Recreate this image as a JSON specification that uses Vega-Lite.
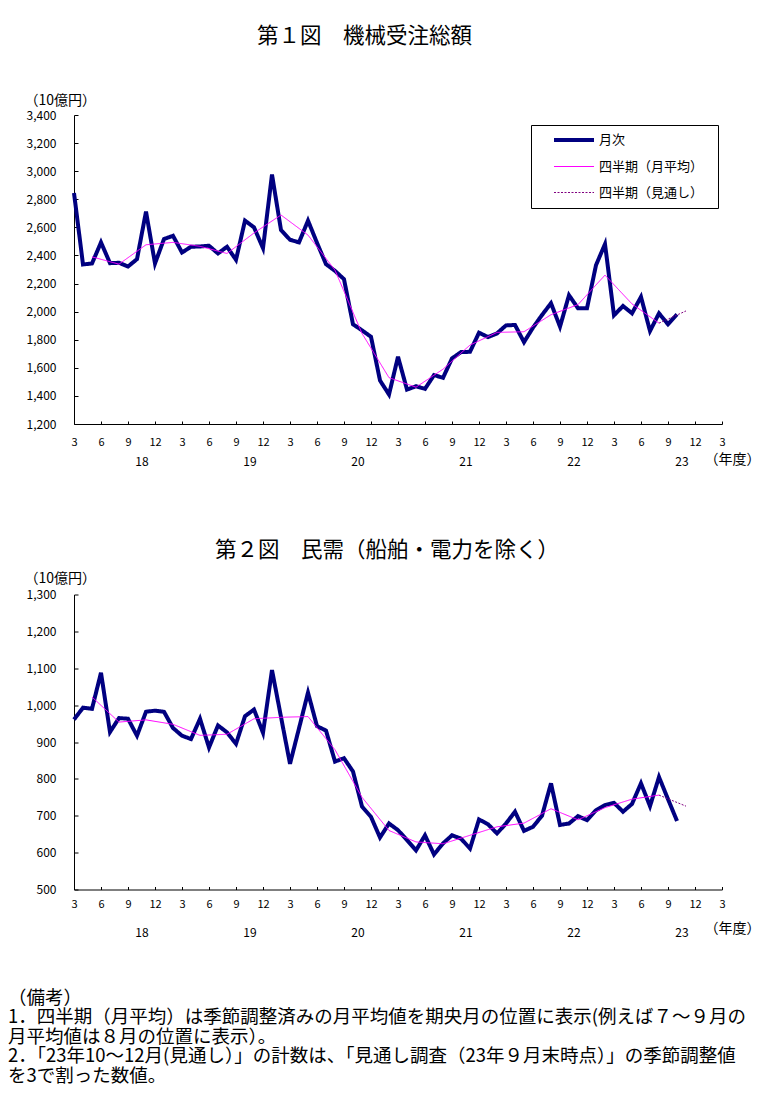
{
  "$schema": "https://vega.github.io/schema/vega-lite/v6.json",
  "background": "white",
  "padding": {"left": 8, "top": 26, "right": 5, "bottom": 5},
  "config": {
    "font": "Noto Sans CJK JP",
    "view": {"stroke": null},
    "axis": {"labelFont": "Noto Sans CJK JP", "labelFontSize": 11, "labelColor": "black", "domainColor": "black", "tickColor": "black", "grid": false, "titleFont": "Noto Sans CJK JP", "titleFontWeight": "normal", "titleFontSize": 14, "titleColor": "black"},
    "legend": {"title": null, "strokeColor": "black", "fillColor": "white", "padding": 8, "symbolType": "M-4,0H4", "symbolSize": 100, "labelFont": "Noto Sans CJK JP", "labelFontSize": 13, "labelColor": "black", "rowPadding": 12, "symbolOffset": 28, "labelOffset": 18},
    "title": {"font": "Noto Sans CJK JP", "fontWeight": "normal", "color": "black"}
  },
  "title": {
    "text": ["（備考）", "1．四半期（月平均）は季節調整済みの月平均値を期央月の位置に表示(例えば７～９月の", "　月平均値は８月の位置に表示）。", "2．「23年10～12月(見通し）」の計数は、「見通し調査（23年９月末時点）」の季節調整値", "　を3で割った数値。"],
    "orient": "bottom", "anchor": "start", "offset": 50, "dx": -16, "fontSize": 18.5, "lineHeight": 19.5, "fontWeight": "normal"
  },
  "spacing": 72.5,
  "datasets": {
    "fig1": [
      {"series":"月次","month":0,"value":2845},{"series":"月次","month":1,"value":2336},{"series":"月次","month":2,"value":2343},{"series":"月次","month":3,"value":2493},{"series":"月次","month":4,"value":2345},{"series":"月次","month":5,"value":2348},{"series":"月次","month":6,"value":2321},{"series":"月次","month":7,"value":2374},{"series":"月次","month":8,"value":2712},{"series":"月次","month":9,"value":2343},
      {"series":"月次","month":10,"value":2517},{"series":"月次","month":11,"value":2540},{"series":"月次","month":12,"value":2421},{"series":"月次","month":13,"value":2462},{"series":"月次","month":14,"value":2464},{"series":"月次","month":15,"value":2469},{"series":"月次","month":16,"value":2414},{"series":"月次","month":17,"value":2462},{"series":"月次","month":18,"value":2369},{"series":"月次","month":19,"value":2648},
      {"series":"月次","month":20,"value":2600},{"series":"月次","month":21,"value":2452},{"series":"月次","month":22,"value":2976},{"series":"月次","month":23,"value":2581},{"series":"月次","month":24,"value":2512},{"series":"月次","month":25,"value":2493},{"series":"月次","month":26,"value":2648},{"series":"月次","month":27,"value":2490},{"series":"月次","month":28,"value":2338},{"series":"月次","month":29,"value":2290},
      {"series":"月次","month":30,"value":2231},{"series":"月次","month":31,"value":1910},{"series":"月次","month":32,"value":1867},{"series":"月次","month":33,"value":1821},{"series":"月次","month":34,"value":1510},{"series":"月次","month":35,"value":1410},{"series":"月次","month":36,"value":1679},{"series":"月次","month":37,"value":1445},{"series":"月次","month":38,"value":1469},{"series":"月次","month":39,"value":1450},
      {"series":"月次","month":40,"value":1548},{"series":"月次","month":41,"value":1529},{"series":"月次","month":42,"value":1667},{"series":"月次","month":43,"value":1712},{"series":"月次","month":44,"value":1714},{"series":"月次","month":45,"value":1850},{"series":"月次","month":46,"value":1819},{"series":"月次","month":47,"value":1845},{"series":"月次","month":48,"value":1902},{"series":"月次","month":49,"value":1905},
      {"series":"月次","month":50,"value":1783},{"series":"月次","month":51,"value":1886},{"series":"月次","month":52,"value":1976},{"series":"月次","month":53,"value":2060},{"series":"月次","month":54,"value":1893},{"series":"月次","month":55,"value":2117},{"series":"月次","month":56,"value":2024},{"series":"月次","month":57,"value":2024},{"series":"月次","month":58,"value":2331},{"series":"月次","month":59,"value":2481},
      {"series":"月次","month":60,"value":1974},{"series":"月次","month":61,"value":2040},{"series":"月次","month":62,"value":1988},{"series":"月次","month":63,"value":2105},{"series":"月次","month":64,"value":1862},{"series":"月次","month":65,"value":1988},{"series":"月次","month":66,"value":1910},{"series":"月次","month":67,"value":1981},
      {"series":"四半期（月平均）","month":2,"value":2390},{"series":"四半期（月平均）","month":5,"value":2338},{"series":"四半期（月平均）","month":8,"value":2476},{"series":"四半期（月平均）","month":11,"value":2493},{"series":"四半期（月平均）","month":14,"value":2465},{"series":"四半期（月平均）","month":17,"value":2414},{"series":"四半期（月平均）","month":20,"value":2560},{"series":"四半期（月平均）","month":23,"value":2688},{"series":"四半期（月平均）","month":26,"value":2545},{"series":"四半期（月平均）","month":29,"value":2295},{"series":"四半期（月平均）","month":32,"value":1845},
      {"series":"四半期（月平均）","month":35,"value":1530},{"series":"四半期（月平均）","month":38,"value":1462},{"series":"四半期（月平均）","month":41,"value":1590},{"series":"四半期（月平均）","month":44,"value":1762},{"series":"四半期（月平均）","month":47,"value":1852},{"series":"四半期（月平均）","month":50,"value":1857},{"series":"四半期（月平均）","month":53,"value":1978},{"series":"四半期（月平均）","month":56,"value":2050},{"series":"四半期（月平均）","month":59,"value":2260},{"series":"四半期（月平均）","month":62,"value":2055},{"series":"四半期（月平均）","month":65,"value":1918},
      {"series":"四半期（見通し）","month":65,"value":1918},{"series":"四半期（見通し）","month":68,"value":2005}
    ],
    "fig2": [
      {"series":"月次","month":0,"value":961},{"series":"月次","month":1,"value":993},{"series":"月次","month":2,"value":990},{"series":"月次","month":3,"value":1088},{"series":"月次","month":4,"value":927},{"series":"月次","month":5,"value":965},{"series":"月次","month":6,"value":963},{"series":"月次","month":7,"value":917},{"series":"月次","month":8,"value":982},{"series":"月次","month":9,"value":985},
      {"series":"月次","month":10,"value":982},{"series":"月次","month":11,"value":938},{"series":"月次","month":12,"value":917},{"series":"月次","month":13,"value":908},{"series":"月次","month":14,"value":963},{"series":"月次","month":15,"value":885},{"series":"月次","month":16,"value":945},{"series":"月次","month":17,"value":926},{"series":"月次","month":18,"value":895},{"series":"月次","month":19,"value":970},
      {"series":"月次","month":20,"value":988},{"series":"月次","month":21,"value":925},{"series":"月次","month":22,"value":1095},{"series":"月次","month":23,"value":968},{"series":"月次","month":24,"value":841},{"series":"月次","month":25,"value":937},{"series":"月次","month":26,"value":1034},{"series":"月次","month":27,"value":943},{"series":"月次","month":28,"value":931},{"series":"月次","month":29,"value":847},
      {"series":"月次","month":30,"value":856},{"series":"月次","month":31,"value":820},{"series":"月次","month":32,"value":725},{"series":"月次","month":33,"value":697},{"series":"月次","month":34,"value":641},{"series":"月次","month":35,"value":679},{"series":"月次","month":36,"value":661},{"series":"月次","month":37,"value":634},{"series":"月次","month":38,"value":606},{"series":"月次","month":39,"value":647},
      {"series":"月次","month":40,"value":595},{"series":"月次","month":41,"value":625},{"series":"月次","month":42,"value":647},{"series":"月次","month":43,"value":638},{"series":"月次","month":44,"value":611},{"series":"月次","month":45,"value":690},{"series":"月次","month":46,"value":677},{"series":"月次","month":47,"value":652},{"series":"月次","month":48,"value":679},{"series":"月次","month":49,"value":711},
      {"series":"月次","month":50,"value":659},{"series":"月次","month":51,"value":670},{"series":"月次","month":52,"value":700},{"series":"月次","month":53,"value":788},{"series":"月次","month":54,"value":675},{"series":"月次","month":55,"value":679},{"series":"月次","month":56,"value":699},{"series":"月次","month":57,"value":688},{"series":"月次","month":58,"value":715},{"series":"月次","month":59,"value":729},
      {"series":"月次","month":60,"value":735},{"series":"月次","month":61,"value":711},{"series":"月次","month":62,"value":732},{"series":"月次","month":63,"value":788},{"series":"月次","month":64,"value":726},{"series":"月次","month":65,"value":805},{"series":"月次","month":66,"value":745},{"series":"月次","month":67,"value":686},
      {"series":"四半期（月平均）","month":2,"value":1022},{"series":"四半期（月平均）","month":5,"value":954},{"series":"四半期（月平均）","month":8,"value":960},{"series":"四半期（月平均）","month":11,"value":948},{"series":"四半期（月平均）","month":14,"value":918},{"series":"四半期（月平均）","month":17,"value":921},{"series":"四半期（月平均）","month":20,"value":963},{"series":"四半期（月平均）","month":23,"value":967},{"series":"四半期（月平均）","month":26,"value":969},{"series":"四半期（月平均）","month":29,"value":879},{"series":"四半期（月平均）","month":32,"value":750},
      {"series":"四半期（月平均）","month":35,"value":660},{"series":"四半期（月平均）","month":38,"value":629},{"series":"四半期（月平均）","month":41,"value":624},{"series":"四半期（月平均）","month":44,"value":647},{"series":"四半期（月平均）","month":47,"value":670},{"series":"四半期（月平均）","month":50,"value":680},{"series":"四半期（月平均）","month":53,"value":719},{"series":"四半期（月平均）","month":56,"value":689},{"series":"四半期（月平均）","month":59,"value":722},{"series":"四半期（月平均）","month":62,"value":745},{"series":"四半期（月平均）","month":65,"value":756},
      {"series":"四半期（見通し）","month":65,"value":756},{"series":"四半期（見通し）","month":68,"value":726}
    ]
  },
  "vconcat": [
    {
      "data": {"name": "fig1"},
      "width": 648,
      "height": 309,
      "title": {"text": "第１図　機械受注総額", "fontSize": 21.5, "offset": 45.5, "dx": -33.5},
      "encoding": {
        "y": {"field": "value", "type": "quantitative", "scale": {"domain": [1200, 3400], "nice": false, "zero": false},
          "axis": {"values": [1200,1400,1600,1800,2000,2200,2400,2600,2800,3000,3200,3400], "format": ",d", "labelFontSize": 12, "tickSize": -4, "labelPadding": 22, "title": "（10億円）", "titleAngle": 0, "titleX": -50, "titleY": -15, "titleAlign": "left", "titleBaseline": "middle"}},
        "color": {"field": "series", "type": "nominal", "scale": {"domain": ["月次", "四半期（月平均）", "四半期（見通し）"], "range": ["#000080", "#FF00FF", "#800080"]}, "legend": {"orient": "none", "legendX": 457, "legendY": 10, "labelExpr": "datum.label + '\u3000\u200b'"}},
        "strokeDash": {"field": "series", "type": "nominal", "scale": {"domain": ["月次", "四半期（月平均）", "四半期（見通し）"], "range": [[1, 0], [1, 0], [2, 1.5]]}},
        "strokeWidth": {"field": "series", "type": "ordinal", "scale": {"type": "ordinal", "domain": ["月次", "四半期（月平均）", "四半期（見通し）"], "range": [4, 1, 1]}}
      },
      "layer": [
        {"transform": [{"filter": "datum.series === '月次'"}], "mark": {"type": "line"},
          "encoding": {"x": {"field": "month", "type": "quantitative", "scale": {"domain": [0, 72], "nice": false, "zero": false},
            "axis": {"orient": "bottom", "values": [0,3,6,9,12,15,18,21,24,27,30,33,36,39,42,45,48,51,54,57,60,63,66,69,72], "labelExpr": "['3','6','9','12'][(datum.value/3)%4]", "title": null, "tickSize": -3, "labelPadding": 15, "labelFlush": false, "labelOverlap": false}}}},
        {"transform": [{"filter": "datum.series !== '月次'"}], "mark": {"type": "line"},
          "encoding": {"x": {"field": "month", "type": "quantitative",
            "axis": {"orient": "bottom", "values": [7.5, 19.5, 31.5, 43.5, 55.5, 67.5], "labelExpr": "toString(18 + floor(datum.value/12))", "domain": false, "ticks": false, "labelPadding": 32, "labelFontSize": 12, "labelFlush": false, "labelOverlap": false, "title": "（年度）", "titleX": 630, "titleY": 35, "titleAlign": "left", "titleBaseline": "middle"}}}}
      ],
      "resolve": {"axis": {"x": "independent"}}
    },
    {
      "data": {"name": "fig2"},
      "width": 648,
      "height": 295,
      "title": {"text": "第２図　民需（船舶・電力を除く）", "fontSize": 21.5, "offset": 10, "dx": -11},
      "encoding": {
        "y": {"field": "value", "type": "quantitative", "scale": {"domain": [500, 1300], "nice": false, "zero": false},
          "axis": {"values": [500,600,700,800,900,1000,1100,1200,1300], "format": ",d", "labelFontSize": 12, "tickSize": -4, "labelPadding": 22, "title": "（10億円）", "titleAngle": 0, "titleX": -50, "titleY": -16, "titleAlign": "left", "titleBaseline": "middle"}},
        "color": {"field": "series", "type": "nominal", "scale": {"domain": ["月次", "四半期（月平均）", "四半期（見通し）"], "range": ["#000080", "#FF00FF", "#800080"]}, "legend": {"orient": "none", "legendX": 462, "legendY": -9, "labelExpr": "datum.label + '\u3000\u200b'"}},
        "strokeDash": {"field": "series", "type": "nominal", "scale": {"domain": ["月次", "四半期（月平均）", "四半期（見通し）"], "range": [[1, 0], [1, 0], [2, 1.5]]}},
        "strokeWidth": {"field": "series", "type": "ordinal", "scale": {"type": "ordinal", "domain": ["月次", "四半期（月平均）", "四半期（見通し）"], "range": [4, 1, 1]}}
      },
      "layer": [
        {"transform": [{"filter": "datum.series === '月次'"}], "mark": {"type": "line"},
          "encoding": {"x": {"field": "month", "type": "quantitative", "scale": {"domain": [0, 72], "nice": false, "zero": false},
            "axis": {"orient": "bottom", "values": [0,3,6,9,12,15,18,21,24,27,30,33,36,39,42,45,48,51,54,57,60,63,66,69,72], "labelExpr": "['3','6','9','12'][(datum.value/3)%4]", "title": null, "tickSize": -3, "labelPadding": 12, "labelFlush": false, "labelOverlap": false}}}},
        {"transform": [{"filter": "datum.series !== '月次'"}], "mark": {"type": "line"},
          "encoding": {"x": {"field": "month", "type": "quantitative",
            "axis": {"orient": "bottom", "values": [7.5, 19.5, 31.5, 43.5, 55.5, 67.5], "labelExpr": "toString(18 + floor(datum.value/12))", "domain": false, "ticks": false, "labelPadding": 38, "labelFontSize": 12, "labelFlush": false, "labelOverlap": false, "title": "（年度）", "titleX": 630, "titleY": 39, "titleAlign": "left", "titleBaseline": "middle"}}}}
      ],
      "resolve": {"axis": {"x": "independent"}}
    }
  ]
}
